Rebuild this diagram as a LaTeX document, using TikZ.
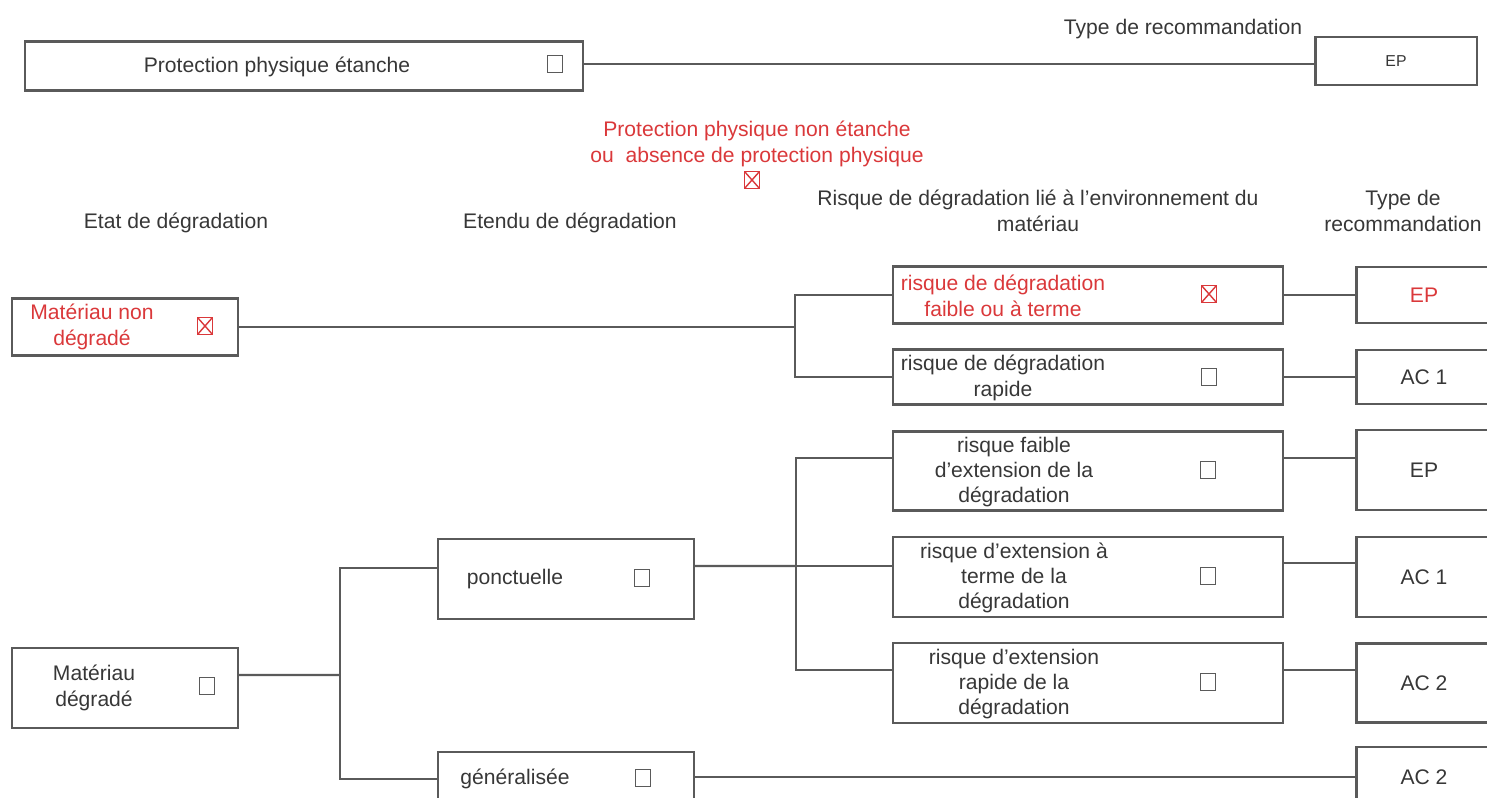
\documentclass[tikz,border=0pt]{standalone}
\usepackage{fontspec}
\setmainfont{Liberation Sans}
\usetikzlibrary{positioning,calc}
\definecolor{boxgray}{RGB}{90,90,90}
\definecolor{textgray}{RGB}{55,55,55}
\definecolor{markred}{RGB}{218,56,58}

\begin{document}
\begin{tikzpicture}[
    x=0.01cm, y=-0.01cm,
    font=\fontsize{6}{7.2}\selectfont,
    text=textgray,
    box/.style={rectangle, draw=boxgray, line width=0.6pt, inner sep=0pt},
    riskbox/.style={box, minimum width=3.89cm},
    typebox/.style={box, minimum width=1.35cm},
    txt/.style={align=center, inner sep=0pt},
    redtxt/.style={txt, text=markred},
    chk/.style={rectangle, draw=boxgray, line width=0.5pt, minimum width=0.15cm, minimum height=0.17cm, inner sep=0pt},
    chkx/.style={chk, draw=markred, path picture={\draw[markred, line width=0.4pt] (path picture bounding box.south west) -- (path picture bounding box.north east) (path picture bounding box.north west) -- (path picture bounding box.south east);}},
    link/.style={draw=boxgray, line width=0.6pt}
]
    \useasboundingbox (0,0) rectangle (1487,798);
    \clip (0,0) rectangle (1487,798);

    % protection etanche
    \node[box, minimum width=5.57cm, minimum height=0.49cm] (etanche) at (304,66) {};
    \node[txt] (etancheTxt) at (277,67) {Protection physique étanche};
    \node[chk] (etancheChk) at (555,64) {};
    \node[txt] (typeTop) at (1183,29) {Type de recommandation};
    \node[box, minimum width=1.61cm, minimum height=0.48cm, font=\fontsize{4.5}{5}\selectfont] (epTop) at (1396,61) {EP};
    \draw[link] ([yshift=0.2mm]etanche.east) -- ([yshift=0.2mm]etanche.east -| epTop.west);

    % protection non etanche
    \node[redtxt] (nonEtanche) at (757,144) {Protection physique non étanche\\ou\ \ absence de protection physique};
    \node[chkx] (nonEtancheChk) at (752,180) {};

    % titres des colonnes
    \node[txt] (hEtat) at (176,223) {Etat de dégradation};
    \node[txt] (hEtendu) at (570,223) {Etendu de dégradation};
    \node[txt] (hRisque) at (1038,211) {Risque de dégradation lié à l'environnement du\\matériau};
    \node[txt] (hType) at (1403,211) {Type de\\recommandation};

    % etat de degradation
    \node[box, minimum width=2.25cm, minimum height=0.57cm] (nonDeg) at (125,327) {};
    \node[redtxt] (nonDegTxt) at (92,327) {Matériau non\\dégradé};
    \node[chkx] (nonDegChk) at (205,326) {};
    \node[box, minimum width=2.25cm, minimum height=0.80cm] (deg) at (125,688) {};
    \node[txt] (degTxt) at (94,688) {Matériau\\dégradé};
    \node[chk] (degChk) at (207,686) {};

    % etendu
    \node[box, minimum width=2.56cm, minimum height=0.80cm] (ponct) at (566,579) {};
    \node[txt] (ponctTxt) at (515,579) {ponctuelle};
    \node[chk] (ponctChk) at (642,578) {};
    \node[box, minimum width=2.56cm, minimum height=0.54cm] (gen) at (566,779) {};
    \node[txt] (genTxt) at (515,779) {généralisée};
    \node[chk] (genChk) at (643,778) {};

    % risque
    \node[riskbox, minimum height=0.57cm] (r1) at (1088,295) {};
    \node[redtxt] (r1Txt) at (1003,296) {risque de dégradation\\faible ou à terme};
    \node[chkx] (r1Chk) at (1209,294) {};
    \node[riskbox, minimum height=0.55cm] (r2) at (1088,377) {};
    \node[txt] (r2Txt) at (1003,378) {risque de dégradation\\rapide};
    \node[chk] (r2Chk) at (1209,377) {};
    \node[riskbox, minimum height=0.79cm] (r3) at (1088,471) {};
    \node[txt] (r3Txt) at (1014,472) {risque faible\\d'extension de la\\dégradation};
    \node[chk] (r3Chk) at (1208,470) {};
    \node[riskbox, minimum height=0.80cm] (r4) at (1088,577) {};
    \node[txt] (r4Txt) at (1014,578) {risque d'extension à\\terme de la\\dégradation};
    \node[chk] (r4Chk) at (1208,576) {};
    \node[riskbox, minimum height=0.80cm] (r5) at (1088,683) {};
    \node[txt] (r5Txt) at (1014,684) {risque d'extension\\rapide de la\\dégradation};
    \node[chk] (r5Chk) at (1208,682) {};

    % type de recommandation
    \node[typebox, minimum height=0.56cm, text=markred] (t1) at (1424,295) {EP};
    \node[typebox, minimum height=0.54cm] (t2) at (1424,377) {AC 1};
    \node[typebox, minimum height=0.80cm] (t3) at (1424,470) {EP};
    \node[typebox, minimum height=0.80cm] (t4) at (1424,577) {AC 1};
    \node[typebox, minimum height=0.79cm] (t5) at (1424,683) {AC 2};
    \node[typebox, minimum height=0.60cm] (t6) at (1424,777) {AC 2};

    % liaisons
    \coordinate (j1) at (795,327);
    \draw[link] (nonDeg.east) -- (j1);
    \draw[link] (r1.west) -| (j1) |- (r2.west);
    \draw[link] (r1.east) -- (r1.east -| t1.west);
    \draw[link] (r2.east) -- (r2.east -| t2.west);

    \coordinate (j2) at (340,675);
    \draw[link] ([yshift=1.3mm]deg.east) -- (j2);
    \draw[link] ([yshift=1.1mm]ponct.west) -| (j2) |- (gen.west);

    \coordinate (j3) at (796,566);
    \draw[link] ([yshift=1.3mm]ponct.east) -- (j3);
    \draw[link] ([yshift=1.3mm]r3.west) -| (j3) |- ([yshift=1.3mm]r5.west);
    \draw[link] (j3) -- (j3 -| r4.west);
    \draw[link] ([yshift=1.3mm]r3.east) -- ([yshift=1.3mm]r3.east -| t3.west);
    \draw[link] ([yshift=1.4mm]r4.east) -- ([yshift=1.4mm]r4.east -| t4.west);
    \draw[link] ([yshift=1.3mm]r5.east) -- ([yshift=1.3mm]r5.east -| t5.west);
    \draw[link] ([yshift=0.2mm]gen.east) -- ([yshift=0.2mm]gen.east -| t6.west);
\end{tikzpicture}
\end{document}
